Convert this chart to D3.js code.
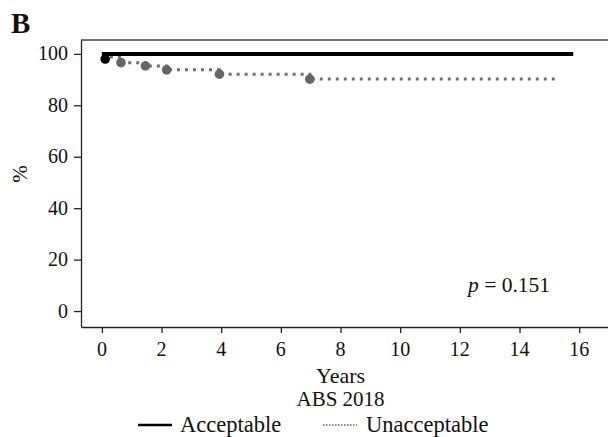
<!DOCTYPE html>
<meta charset="utf-8">
<style>
  body { margin: 0; background: #fff; }
  svg text { font-family: "Liberation Serif", serif; fill: #111; }
</style>
<body>
<script src="https://d3js.org/d3.v7.min.js"></script>
<script>
  // survival curves (years, %)
  var accTime = [0, 15.8];
  var accSurv = [100, 100];
  var accMarkTime = [0.11];
  var accMarkSurv = [98.0];

  var unaccTime = [0, 0.64, 1.46, 2.17, 3.94, 6.97, 15.2];
  var unaccSurv = [98.8, 96.6, 95.3, 93.8, 92.1, 90.2, 90.2];
  var unaccMarkTime = [0.64, 1.46, 2.17, 3.94, 6.97];
  var unaccMarkSurv = [96.6, 95.3, 93.8, 92.1, 90.2];

  var xTicks = [0, 2, 4, 6, 8, 10, 12, 14, 16];
  var yTicks = [0, 20, 40, 60, 80, 100];
  var legendLabels = ["Acceptable", "Unacceptable"];

  var width = 608, height = 437;
  var margin = {top: 40, right: -4, bottom: 110, left: 81};
  var bottomY = height - margin.bottom;

  var svg = d3.select("body").append("svg")
    .attr("width", width)
    .attr("height", height);

  var x = d3.scaleLinear().domain([-0.7, 17.1]).range([margin.left, width - margin.right]);
  var y = d3.scaleLinear().domain([-6.2, 105.4]).range([bottomY, margin.top]);

  // top border of the plot box
  svg.append("line")
    .attr("x1", margin.left).attr("x2", width + 5)
    .attr("y1", margin.top).attr("y2", margin.top)
    .attr("stroke", "#444").attr("stroke-width", 1.3);

  // axes: lines and ticks from d3, labels added below
  var xAxis = svg.append("g")
    .attr("transform", "translate(0," + bottomY + ")")
    .call(d3.axisBottom(x).tickValues(xTicks).tickSize(6).tickSizeOuter(0).tickFormat(""));
  var yAxis = svg.append("g")
    .attr("transform", "translate(" + margin.left + ",0)")
    .call(d3.axisLeft(y).tickValues(yTicks).tickSize(7).tickSizeOuter(0).tickFormat(""));
  svg.selectAll(".domain, .tick line").attr("stroke", "#222").attr("stroke-width", 1.3);

  svg.append("g").selectAll("text")
    .data(xTicks)
    .enter().append("text")
    .attr("x", function (d) { return x(d); })
    .attr("y", bottomY + 29)
    .attr("text-anchor", "middle")
    .style("font-size", "20px")
    .text(function (d) { return d; });

  svg.append("g").selectAll("text")
    .data(yTicks)
    .enter().append("text")
    .attr("x", margin.left - 13)
    .attr("y", function (d) { return y(d); })
    .attr("dy", "0.33em")
    .attr("text-anchor", "end")
    .style("font-size", "20px")
    .text(function (d) { return d; });

  var line = d3.line()
    .x(function (d) { return x(d[0]); })
    .y(function (d) { return y(d[1]); })
    .curve(d3.curveStepAfter);

  // Unacceptable (dotted gray)
  svg.append("path")
    .datum(d3.zip(unaccTime, unaccSurv))
    .attr("d", line)
    .attr("fill", "none")
    .attr("stroke", "#6e6e6e")
    .attr("stroke-width", 3)
    .attr("stroke-dasharray", "3,5");

  svg.selectAll(".umark")
    .data(d3.zip(unaccMarkTime, unaccMarkSurv))
    .enter().append("circle")
    .attr("class", "umark")
    .attr("cx", function (d) { return x(d[0]); })
    .attr("cy", function (d) { return y(d[1]); })
    .attr("r", 4.8)
    .attr("fill", "#666");

  // Acceptable (solid black)
  svg.append("path")
    .datum(d3.zip(accTime, accSurv))
    .attr("d", line)
    .attr("fill", "none")
    .attr("stroke", "#000")
    .attr("stroke-width", 4);

  svg.selectAll(".amark")
    .data(d3.zip(accMarkTime, accMarkSurv))
    .enter().append("circle")
    .attr("class", "amark")
    .attr("cx", function (d) { return x(d[0]); })
    .attr("cy", function (d) { return y(d[1]); })
    .attr("r", 4.8)
    .attr("fill", "#000");

  // texts
  svg.append("text")
    .attr("x", 11).attr("y", 33)
    .style("font-size", "29px").style("font-weight", "bold")
    .text("B");

  svg.append("text")
    .attr("transform", "translate(27,174) rotate(-90)")
    .attr("text-anchor", "middle")
    .style("font-size", "21px")
    .text("%");

  var pText = svg.append("text")
    .attr("x", 468).attr("y", 292)
    .style("font-size", "21.5px");
  pText.append("tspan").style("font-style", "italic").text("p");
  pText.append("tspan").text(" = 0.151");

  svg.append("text")
    .attr("x", x(8)).attr("y", 383)
    .attr("text-anchor", "middle")
    .style("font-size", "22px")
    .text("Years");

  svg.append("text")
    .attr("x", x(8)).attr("y", 406)
    .attr("text-anchor", "middle")
    .style("font-size", "21px")
    .text("ABS 2018");

  // legend
  var leg = svg.append("g");
  leg.append("line")
    .attr("x1", 138).attr("x2", 172).attr("y1", 425).attr("y2", 425)
    .attr("stroke", "#000").attr("stroke-width", 2.5);
  leg.append("text")
    .attr("x", 180).attr("y", 432)
    .style("font-size", "22.5px")
    .text(legendLabels[0]);
  leg.append("line")
    .attr("x1", 323).attr("x2", 357).attr("y1", 425).attr("y2", 425)
    .attr("stroke", "#666").attr("stroke-width", 1.5)
    .attr("stroke-dasharray", "1.5,1.5");
  leg.append("text")
    .attr("x", 366).attr("y", 432)
    .style("font-size", "22.5px")
    .text(legendLabels[1]);
</script>
</body>
